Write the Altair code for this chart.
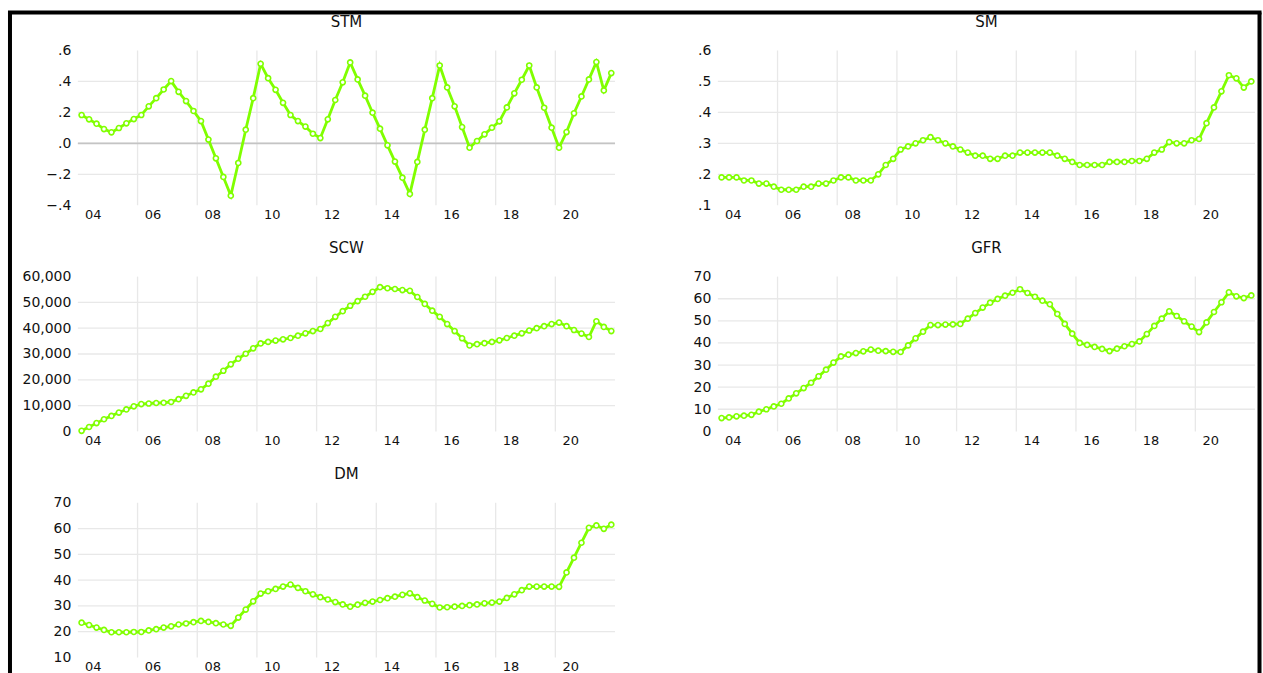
import altair as alt
import pandas as pd

# ---------------- data (quarterly, 2004Q1 .. 2021Q4) ----------------
quarters = [f"{y}Q{q}" for y in range(2004, 2022) for q in range(1, 5)]

stm = [0.183, 0.155, 0.127, 0.092, 0.071, 0.099, 0.129, 0.157,
       0.183, 0.239, 0.292, 0.348, 0.402, 0.333, 0.273, 0.209,
       0.144, 0.024, -0.097, -0.217, -0.338, -0.127, 0.088, 0.292,
       0.514, 0.421, 0.346, 0.262, 0.183, 0.144, 0.108, 0.062,
       0.034, 0.155, 0.280, 0.394, 0.523, 0.413, 0.308, 0.198,
       0.095, -0.013, -0.118, -0.222, -0.327, -0.120, 0.088, 0.292,
       0.503, 0.361, 0.239, 0.105, -0.028, 0.015, 0.058, 0.101,
       0.142, 0.232, 0.323, 0.411, 0.503, 0.361, 0.230, 0.101,
       -0.028, 0.073, 0.194, 0.303, 0.413, 0.525, 0.342, 0.454]

sm = [0.19, 0.19, 0.19, 0.18, 0.18, 0.17, 0.17, 0.16,
      0.15, 0.15, 0.15, 0.16, 0.16, 0.17, 0.17, 0.18,
      0.19, 0.19, 0.18, 0.18, 0.18, 0.20, 0.23, 0.25,
      0.28, 0.29, 0.30, 0.31, 0.32, 0.31, 0.30, 0.29,
      0.28, 0.27, 0.26, 0.26, 0.25, 0.25, 0.26, 0.26,
      0.27, 0.27, 0.27, 0.27, 0.27, 0.26, 0.25, 0.24,
      0.23, 0.23, 0.23, 0.23, 0.24, 0.24, 0.24, 0.243,
      0.243, 0.25, 0.27, 0.28, 0.304, 0.30, 0.30, 0.31,
      0.314, 0.365, 0.416, 0.468, 0.52, 0.51, 0.48, 0.50]

scw = [200, 1700, 3200, 4700, 6000, 7300, 8500, 9700,
       10600, 10800, 11000, 11100, 11400, 12500, 13800, 15100,
       16300, 18500, 21200, 23500, 26000, 28200, 30100, 32200,
       34100, 34700, 35200, 35700, 36200, 37100, 38000, 38900,
       39700, 42000, 44400, 46600, 48700, 50500, 52200, 54100,
       55900, 55500, 55200, 54800, 54500, 52100, 49400, 46800,
       44400, 41600, 38900, 36100, 33300, 33800, 34200, 34700,
       35300, 36200, 37100, 38000, 39100, 40000, 40800, 41600,
       42200, 40800, 39300, 37900, 36600, 42700, 40500, 38900]

gfr = [6.0, 6.3, 6.8, 7.1, 7.5, 8.9, 10.0, 11.3,
       12.5, 14.9, 17.2, 19.6, 22.0, 24.9, 27.9, 31.1,
       33.9, 34.7, 35.4, 36.2, 37.0, 36.5, 36.3, 36.0,
       35.9, 38.9, 42.1, 45.1, 48.1, 48.1, 48.3, 48.4,
       48.6, 51.0, 53.5, 56.0, 58.2, 59.9, 61.4, 62.7,
       64.3, 62.6, 60.9, 59.1, 57.5, 53.1, 48.6, 44.2,
       40.0, 39.1, 38.2, 37.3, 36.3, 37.4, 38.5, 39.5,
       40.7, 44.0, 47.7, 51.0, 54.3, 52.2, 49.8, 47.4,
       44.9, 49.3, 54.0, 58.4, 62.9, 61.1, 60.3, 61.5]

dm = [23.5, 22.6, 21.6, 20.7, 19.8, 19.8, 19.8, 19.9,
      19.9, 20.5, 21.0, 21.6, 22.1, 22.8, 23.2, 23.7,
      24.2, 23.8, 23.3, 22.8, 22.3, 25.5, 28.6, 31.8,
      34.8, 35.7, 36.6, 37.5, 38.3, 37.0, 35.7, 34.5,
      33.4, 32.5, 31.5, 30.6, 29.7, 30.5, 31.2, 31.7,
      32.3, 33.0, 33.6, 34.3, 34.9, 33.4, 32.1, 30.8,
      29.4, 29.5, 29.7, 30.0, 30.3, 30.6, 31.0, 31.3,
      31.7, 33.1, 34.5, 36.1, 37.5, 37.5, 37.5, 37.5,
      37.4, 43.0, 48.7, 54.5, 60.3, 61.2, 59.9, 61.5]

year_labels = [2004, 2006, 2008, 2010, 2012, 2014, 2016, 2018, 2020]
year_grid = [2006, 2008, 2010, 2012, 2014, 2016, 2018, 2020]

stm_ticks = [-0.4, -0.2, 0.0, 0.2, 0.4, 0.6]
sm_ticks = [0.1, 0.2, 0.3, 0.4, 0.5, 0.6]
scw_ticks = [0, 10000, 20000, 30000, 40000, 50000, 60000]
gfr_ticks = [0, 10, 20, 30, 40, 50, 60, 70]
dm_ticks = [10, 20, 30, 40, 50, 60, 70]

# ---------------- style ----------------
GREEN = "#80FF00"
GRID = "#e8e8e8"
FONT = "DejaVu Sans"
W, H = 538, 155


def qpos(label):
    return int(label[:4]) + (int(label[5]) - 0.5) / 4.0


xscale = alt.Scale(domain=[2004, 2022], nice=False, zero=False)
DOT_EXPR = "replace(format(datum.value, '.1f'), '0.', '.')"
COMMA_EXPR = "format(datum.value, ',')"
INT_EXPR = "format(datum.value, 'd')"


def panel(name, values, ticks, label_expr, zero_line=False):
    df = pd.DataFrame({"t": [qpos(q) for q in quarters], "v": values})
    yscale = alt.Scale(domain=[ticks[0], ticks[-1]], nice=False, zero=False)
    xaxis = alt.Axis(values=year_labels, labelExpr="format(datum.value % 100, '02d')",
                     labelOffset=W / 36.0, labelFlush=False, labelOverlap=False,
                     grid=False, domain=False, ticks=False, labelPadding=3,
                     labelFontSize=13)
    yaxis = alt.Axis(values=ticks, labelExpr=label_expr, grid=False, domain=False,
                     ticks=False, labelPadding=7, labelOverlap=False)

    vgrid = alt.Chart(pd.DataFrame({"g": year_grid})).mark_rule(
        color=GRID, strokeWidth=1.3).encode(
        x=alt.X("g:Q", scale=xscale, axis=xaxis, title=None))
    hgrid = alt.Chart(pd.DataFrame({"h": ticks[1:-1]})).mark_rule(
        color=GRID, strokeWidth=1.3).encode(
        y=alt.Y("h:Q", scale=yscale, axis=yaxis, title=None))
    layers = [vgrid, hgrid]
    if zero_line:
        layers.append(alt.Chart(pd.DataFrame({"z": [0.0]})).mark_rule(
            color="#c4c4c4", strokeWidth=1.6).encode(
            y=alt.Y("z:Q", scale=yscale, axis=yaxis, title=None)))
    base = alt.Chart(df).encode(
        x=alt.X("t:Q", scale=xscale, axis=xaxis, title=None),
        y=alt.Y("v:Q", scale=yscale, axis=yaxis, title=None))
    line = base.mark_line(color=GREEN, strokeWidth=2.8)
    pts = base.mark_point(shape="circle", filled=True, fill="white", stroke=GREEN,
                          strokeWidth=1.6, size=26, opacity=1)
    layers += [line, pts]
    return alt.layer(*layers).properties(
        width=W, height=H,
        title=alt.TitleParams(text=name, frame="group", anchor="middle",
                              baseline="alphabetic", offset=1.5, fontSize=15,
                              font=FONT, fontWeight="normal", color="#111"))


p_stm = panel("STM", stm, stm_ticks, DOT_EXPR, zero_line=True)
p_sm = panel("SM", sm, sm_ticks, DOT_EXPR)
p_scw = panel("SCW", scw, scw_ticks, COMMA_EXPR)
p_gfr = panel("GFR", gfr, gfr_ticks, INT_EXPR)
p_dm = panel("DM", dm, dm_ticks, INT_EXPR)

# frame drawn from the empty sixth cell (bottom right)
bdf = pd.DataFrame({"k": [0]})
top_b = alt.Chart(bdf).mark_rule(color="black", strokeWidth=4, strokeCap="square",
                                 clip=False).encode(
    x=alt.value(-709), x2=alt.value(542.5), y=alt.value(-491))
left_b = alt.Chart(bdf).mark_rule(color="black", strokeWidth=4, clip=False).encode(
    x=alt.value(-709), y=alt.value(-491), y2=alt.value(200))
right_b = alt.Chart(bdf).mark_rule(color="black", strokeWidth=4, clip=False).encode(
    x=alt.value(542.5), y=alt.value(-491), y2=alt.value(200))
frame = alt.layer(top_b, left_b, right_b).properties(width=W, height=H)

chart = alt.concat(p_stm, p_sm, p_scw, p_gfr, p_dm, frame, columns=2,
                   spacing={"row": 71.5, "column": 103}, bounds="flush").properties(
    padding={"left": 7, "top": 9, "right": 0, "bottom": 0},
    background="white",
).configure_view(stroke=None).configure_axis(
    labelFont=FONT, labelFontSize=14, labelColor="#111")

chart.save("out.html", embed_options={"renderer": "svg", "actions": False})
